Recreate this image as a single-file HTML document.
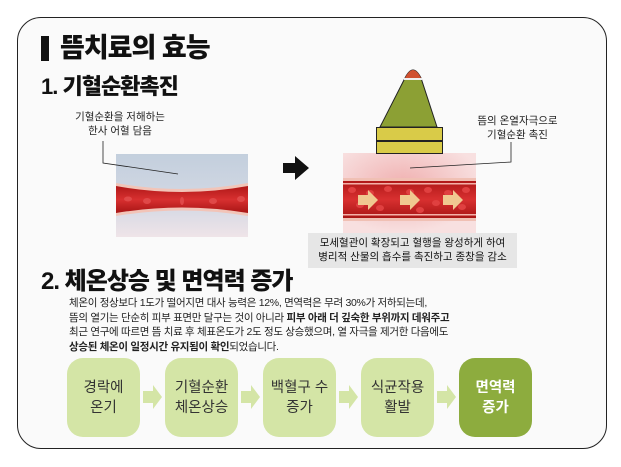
<!DOCTYPE html>
<html><head><meta charset="utf-8"><style>
*{margin:0;padding:0;box-sizing:border-box}
body{width:621px;height:467px;background:#fff;position:relative;overflow:hidden;font-family:"Liberation Sans","Noto Sans CJK KR",sans-serif;color:#111}
.card{position:absolute;left:17px;top:17px;width:590px;height:432px;border:1.5px solid #222;border-radius:24px;background:#fafafa}
.a{position:absolute;white-space:nowrap}
.t1{left:60px;top:35px;font-size:27px;line-height:27px;font-weight:900;letter-spacing:-1px}
.bar{left:41px;top:36px;width:8px;height:25px;background:#111}
.t2{left:41px;top:76px;font-size:22px;line-height:22px;font-weight:900;letter-spacing:-1px}
.t3{left:41px;top:270px;font-size:24px;line-height:24px;font-weight:900;letter-spacing:-1px}
.lbl{font-size:10.5px;line-height:14px;text-align:center;color:#222}
.p{left:69px;top:296px;font-size:10.5px;line-height:14.5px;color:#222;letter-spacing:-0.3px}
.box{position:absolute;top:358px;width:73px;height:79px;border-radius:16px;background:#d4e5a6;display:flex;align-items:center;justify-content:center;text-align:center;font-size:14.5px;line-height:20px;color:#333}
.cap{left:308px;top:233px;width:209px;height:35px;background:#e6e6e6;font-size:10.5px;line-height:14px;text-align:center;padding-top:3px}
</style></head><body>
<div class="card"></div>
<div class="a bar"></div>
<div class="a t1">뜸치료의 효능</div>
<div class="a t2">1. 기혈순환촉진</div>
<div class="a lbl" style="left:70px;top:110px;width:100px">기혈순환을 저해하는<br>한사 어혈 담음</div>
<div class="a lbl" style="left:465px;top:114px;width:105px">뜸의 온열자극으로<br>기혈순환 촉진</div>
<svg class="a" style="left:0;top:0" width="621" height="467">
<defs>
<linearGradient id="bg1" x1="0" y1="0" x2="0" y2="1"><stop offset="0" stop-color="#c3cfdd"/><stop offset="0.6" stop-color="#d3d8e4"/><stop offset="1" stop-color="#efe4e8"/></linearGradient>
<linearGradient id="ves" x1="0" y1="0" x2="0" y2="1"><stop offset="0" stop-color="#b01818"/><stop offset="0.5" stop-color="#d83030"/><stop offset="1" stop-color="#a81515"/></linearGradient>
<radialGradient id="heat" cx="0.45" cy="0.4" r="0.6"><stop offset="0" stop-color="#f0b0b0"/><stop offset="1" stop-color="#f8e0e0"/></radialGradient>
</defs>
<rect x="116" y="154" width="132" height="83" fill="url(#bg1)"/>
<path d="M116 183 Q182 195 248 183 L248 216 Q182 205 116 216 Z" fill="#f2c4b8"/>
<path d="M116 186 Q182 198 248 186 L248 213 Q182 202 116 213 Z" fill="url(#ves)"/>
<g fill="#e04848"><ellipse cx="128" cy="199" rx="4" ry="2.5"/><ellipse cx="147" cy="201" rx="4" ry="3"/><ellipse cx="182" cy="201" rx="2" ry="4"/><ellipse cx="213" cy="201" rx="4" ry="3"/><ellipse cx="241" cy="199" rx="4" ry="3"/></g>
<polyline points="103,141 103,163 178,174" fill="none" stroke="#222" stroke-width="0.8"/>
<polygon points="283,163 295,163 295,156 309,168 295,180 295,173 283,173" fill="#111"/>
<rect x="343" y="153" width="133" height="80" fill="url(#heat)"/>
<rect x="343" y="178" width="133" height="43" fill="#f0c0b4"/>
<rect x="343" y="181" width="133" height="37" fill="url(#ves)"/>
<rect x="343" y="183" width="133" height="1.5" fill="#f4b0a8"/>
<rect x="343" y="214" width="133" height="1.5" fill="#f4b0a8"/>
<g fill="#e04040"><ellipse cx="352" cy="190" rx="4" ry="3"/><ellipse cx="370" cy="193" rx="4" ry="3"/><ellipse cx="388" cy="189" rx="4" ry="3"/><ellipse cx="410" cy="192" rx="4" ry="3"/><ellipse cx="428" cy="190" rx="4" ry="3"/><ellipse cx="448" cy="193" rx="4" ry="3"/><ellipse cx="466" cy="190" rx="4" ry="3"/><ellipse cx="360" cy="205" rx="4" ry="3"/><ellipse cx="380" cy="208" rx="4" ry="3"/><ellipse cx="420" cy="210" rx="4" ry="3"/><ellipse cx="436" cy="203" rx="4" ry="3"/><ellipse cx="462" cy="207" rx="4" ry="3"/></g>
<g fill="#f0c890"><polygon points="358,195 368,195 368,190 378,200 368,210 368,205 358,205"/><polygon points="400,195 410,195 410,190 420,200 410,210 410,205 400,205"/><polygon points="443,195 453,195 453,190 463,200 453,210 453,205 443,205"/></g>
<polyline points="511,142 511,162 410,168" fill="none" stroke="#222" stroke-width="0.8"/>
<path d="M380 127 L405 78 Q409 70 413 70 Q417 70 421 78 L437 127 Z" fill="#8ca034" stroke="#222" stroke-width="1"/>
<path d="M405 78 Q409 70 413 70 Q417 70 421 78 Z" fill="#d05030"/>
<rect x="404" y="78" width="18" height="2" fill="#eee"/>
<rect x="376.5" y="127.5" width="66" height="13" fill="#d9cb48" stroke="#222" stroke-width="1"/>
<rect x="376.5" y="141.5" width="66" height="12" fill="#d9cb48" stroke="#222" stroke-width="1"/>
<g fill="#d4e5a6">
<polygon points="143,391 153,391 153,385 162,397 153,409 153,403 143,403"/>
<polygon points="241,391 251,391 251,385 260,397 251,409 251,403 241,403"/>
<polygon points="339,391 349,391 349,385 358,397 349,409 349,403 339,403"/>
<polygon points="437,391 447,391 447,385 456,397 447,409 447,403 437,403"/>
</g>
</svg>
<div class="a cap">모세혈관이 확장되고 혈행을 왕성하게 하여<br>병리적 산물의 흡수를 촉진하고 종창을 감소</div>
<div class="a t3">2. 체온상승 및 면역력 증가</div>
<div class="a p">체온이 정상보다 1도가 떨어지면 대사 능력은 12%, 면역력은 무려 30%가 저하되는데,<br>뜸의 열기는 단순히 피부 표면만 달구는 것이 아니라 <b>피부 아래 더 깊숙한 부위까지 데워주고</b><br>최근 연구에 따르면 뜸 치료 후 체표온도가 2도 정도 상승했으며, 열 자극을 제거한 다음에도<br><b>상승된 체온이 일정시간 유지됨이 확인</b>되었습니다.</div>
<div class="box" style="left:67px">경락에<br>온기</div>
<div class="box" style="left:165px">기혈순환<br>체온상승</div>
<div class="box" style="left:263px">백혈구 수<br>증가</div>
<div class="box" style="left:361px">식균작용<br>활발</div>
<div class="box" style="left:459px;background:#8dac3e;color:#fff;font-weight:bold">면역력<br>증가</div>
</body></html>
